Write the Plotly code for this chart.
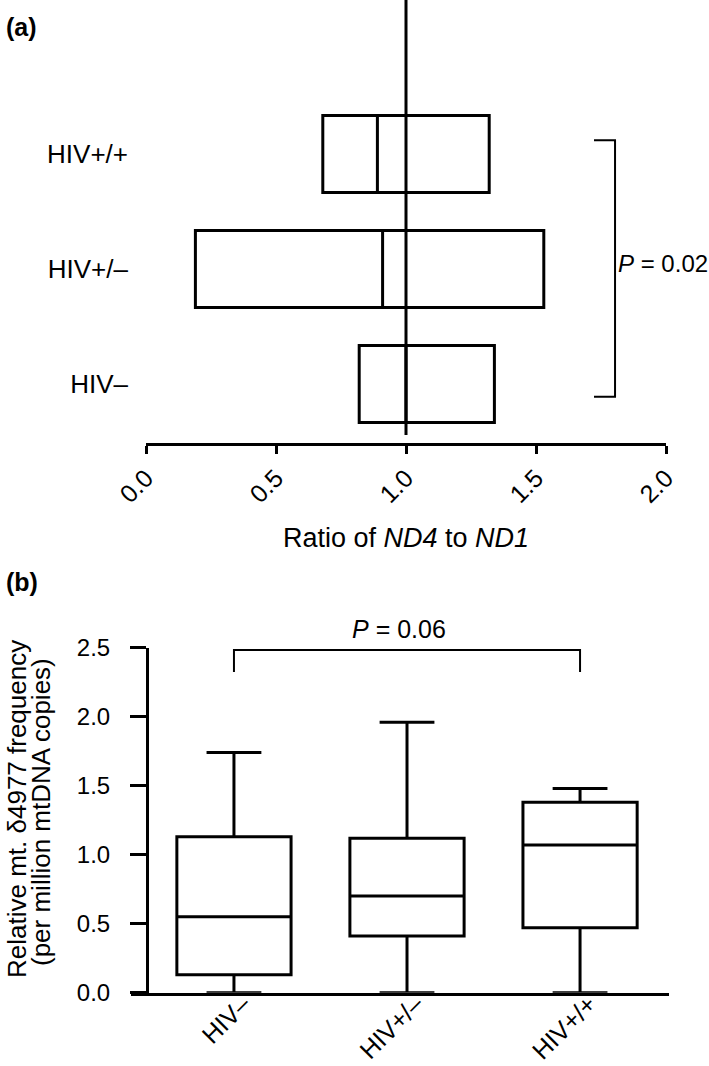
import plotly.graph_objects as go

W, H = 709, 1066
FONT = "Liberation Sans, Arial, Helvetica, sans-serif"

# ---- data ----
cats_a = ["HIV–", "HIV+/–", "HIV+/+"]
a_q1 = [0.82, 0.19, 0.68]
a_median = [1.00, 0.91, 0.89]
a_q3 = [1.34, 1.53, 1.32]
a_ticks = [0.0, 0.5, 1.0, 1.5, 2.0]

cats_b = ["HIV–", "HIV+/–", "HIV+/+"]
b_low = [0.0, 0.0, 0.0]
b_q1 = [0.13, 0.41, 0.47]
b_median = [0.55, 0.70, 1.07]
b_q3 = [1.13, 1.12, 1.38]
b_high = [1.74, 1.96, 1.48]
b_ticks = [0.0, 0.5, 1.0, 1.5, 2.0, 2.5]


def py(p):
    return 1 - p / H


def pxx(p):
    return p / W


fig = go.Figure()

# panel (a): horizontal boxes without whiskers
fig.add_trace(go.Box(
    y=cats_a, q1=a_q1, median=a_median, q3=a_q3,
    lowerfence=a_q1, upperfence=a_q3,
    orientation="h", width=0.67, whiskerwidth=0,
    fillcolor="rgba(0,0,0,0)", line=dict(color="black", width=3),
    boxpoints=False, showlegend=False, hoverinfo="skip",
    xaxis="x", yaxis="y"))

# panel (b): vertical boxes with whiskers
fig.add_trace(go.Box(
    x=cats_b, q1=b_q1, median=b_median, q3=b_q3,
    lowerfence=b_low, upperfence=b_high,
    width=0.66, whiskerwidth=0.48,
    fillcolor="rgba(0,0,0,0)", line=dict(color="black", width=3),
    boxpoints=False, showlegend=False, hoverinfo="skip",
    xaxis="x2", yaxis="y2"))

fig.update_layout(
    width=W, height=H,
    margin=dict(l=0, r=0, t=0, b=0),
    paper_bgcolor="white", plot_bgcolor="white",
    font=dict(family=FONT, size=25, color="black"),
    boxmode="overlay",
    xaxis=dict(
        domain=[pxx(146), pxx(666)], range=[0, 2], anchor="y",
        showline=True, linecolor="black", linewidth=3,
        ticks="outside", ticklen=8, tickwidth=3, tickcolor="black",
        tickvals=a_ticks, ticktext=[f"{v:.1f}" for v in a_ticks],
        tickangle=-45, showgrid=False, zeroline=False,
        tickfont=dict(size=25), automargin=False,
    ),
    yaxis=dict(
        domain=[py(442.7), 1], range=[-0.51, 3.34], anchor="x",
        type="category", categoryorder="array", categoryarray=cats_a,
        showline=False, ticks="", showgrid=False, zeroline=False,
        ticklabelstandoff=17, tickfont=dict(size=26), automargin=False,
    ),
    xaxis2=dict(
        domain=[pxx(131), pxx(669)], range=[-0.595, 2.514], anchor="y2",
        type="category", categoryorder="array", categoryarray=cats_b,
        showline=True, linecolor="black", linewidth=3,
        ticks="", tickangle=-45, showgrid=False, zeroline=False,
        ticklabelstandoff=-16, ticklabelshift=9,
        tickfont=dict(size=25), automargin=False,
    ),
    yaxis2=dict(
        domain=[py(992.7), py(647.7)], range=[0, 2.5],
        anchor="free", position=pxx(147),
        showline=True, linecolor="black", linewidth=3,
        ticks="outside", ticklen=16, tickwidth=3, tickcolor="black",
        tickvals=b_ticks, ticktext=[f"{v:.1f}" for v in b_ticks],
        showgrid=False, zeroline=False, ticklabelstandoff=15,
        tickfont=dict(size=24), automargin=False,
    ),
)

# reference line at ratio 1.0 in panel (a)
fig.add_shape(type="line", xref="x", yref="y", x0=1, x1=1, y0=-0.443, y1=3.34,
              line=dict(color="black", width=3))

# significance bracket panel (a)
fig.add_shape(type="path", xref="x", yref="y",
              path="M 1.723,2.12 L 1.804,2.12 L 1.804,-0.11 L 1.723,-0.11",
              line=dict(color="black", width=2))
fig.add_annotation(xref="x", yref="y", x=1.8065, y=1.05, xanchor="left", yanchor="middle",
                   text="<i>P</i> = 0.02", showarrow=False, font=dict(size=24))

# significance bracket panel (b)
fig.add_shape(type="path", xref="x2", yref="y2",
              path="M 0,2.324 L 0,2.483 L 2,2.483 L 2,2.324",
              line=dict(color="black", width=2))
fig.add_annotation(xref="x2", yref="paper", x=1, y=py(629), xshift=-8, xanchor="center",
                   yanchor="middle", text="<i>P</i> = 0.06", showarrow=False,
                   font=dict(size=25))

# axis titles
fig.add_annotation(xref="x", yref="paper", x=1, y=py(538), xanchor="center", yanchor="middle",
                   text="Ratio of <i>ND4</i> to <i>ND1</i>", showarrow=False,
                   font=dict(size=27))
fig.add_annotation(xref="paper", yref="paper", x=0, y=py(809), textangle=-90,
                   xanchor="left", yanchor="middle",
                   text="Relative mt. δ4977 frequency", showarrow=False,
                   font=dict(size=26))
fig.add_annotation(xref="paper", yref="paper", x=pxx(24), y=py(812), textangle=-90,
                   xanchor="left", yanchor="middle",
                   text="(per million mtDNA copies)", showarrow=False,
                   font=dict(size=26))

# panel letters
fig.add_annotation(xref="paper", yref="paper", x=pxx(4), y=py(27), xanchor="left", yanchor="middle",
                   text="<b>(a)</b>", showarrow=False, font=dict(size=25))
fig.add_annotation(xref="paper", yref="paper", x=pxx(4), y=py(582), xanchor="left", yanchor="middle",
                   text="<b>(b)</b>", showarrow=False, font=dict(size=25))

fig.write_html("out.html", config={"displayModeBar": False},
               post_script="document.body.style.margin='0';document.body.style.padding='0';")
